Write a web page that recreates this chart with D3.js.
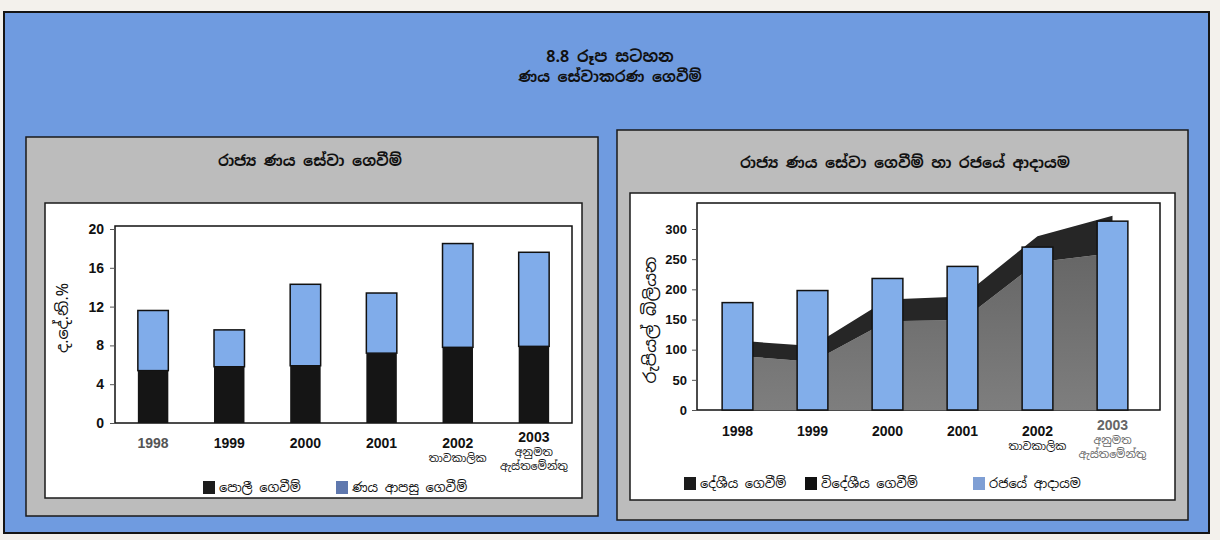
<!DOCTYPE html>
<html>
<head>
<meta charset="utf-8">
<script src="https://cdn.jsdelivr.net/npm/d3@7"></script>
<style>
  body { margin: 0; background: #f3f1ec; }
  svg { display: block; }
  text { font-family: "Noto Sans Sinhala", "Iskoola Pota", "Liberation Sans", Arial, sans-serif; fill: #111; }
  .num { font-family: "Liberation Sans", Arial, sans-serif; font-weight: bold; }
</style>
</head>
<body>
<svg id="chart" width="1220" height="540"></svg>
<script>
// data
var years = ["1998", "1999", "2000", "2001", "2002", "2003"];
var yearNotes = [[], [], [], [], ["තාවකාලික"], ["අනුමත", "ඇස්තමේන්තු"]];

// left: % of GDP
var interestPay = [5.4, 5.8, 5.9, 7.2, 7.8, 7.9];
var amortPay = [6.2, 3.8, 8.4, 6.2, 10.7, 9.7];
var leftTicks = [0, 4, 8, 12, 16, 20];

// right: Rs. billion
var domesticPay = [90, 80, 147, 149, 245, 260];
var foreignPay = [25, 26, 36, 39, 43, 62];
var govRevenue = [178, 198, 218, 238, 270, 313];
var rightTicks = [0, 50, 100, 150, 200, 250, 300];

var svg = d3.select("#chart");

// panels
svg.append("rect").attr("x", 4).attr("y", 12).attr("width", 1205).attr("height", 521)
  .attr("fill", "#6f9be0").attr("stroke", "#151515").attr("stroke-width", 2);

svg.append("text").attr("x", 610).attr("y", 62).attr("text-anchor", "middle")
  .style("font-size", "16px").style("font-weight", "bold").text("8.8 රූප සටහන");
svg.append("text").attr("x", 610).attr("y", 82).attr("text-anchor", "middle")
  .style("font-size", "15px").style("font-weight", "bold").text("ණය සේවාකරණ ගෙවීම්");

function panel(x, y, w, h, wx, wy, ww, wh, title, tx, ty) {
  svg.append("rect").attr("x", x).attr("y", y).attr("width", w).attr("height", h)
    .attr("fill", "#bcbcbc").attr("stroke", "#1a1a1a").attr("stroke-width", 1.5);
  svg.append("rect").attr("x", wx).attr("y", wy).attr("width", ww).attr("height", wh)
    .attr("fill", "#fff").attr("stroke", "#1a1a1a").attr("stroke-width", 1.5);
  svg.append("text").attr("x", tx).attr("y", ty).attr("text-anchor", "middle")
    .style("font-size", "15px").style("font-weight", "bold").text(title);
}
panel(26, 137, 572, 379, 45, 203, 537, 295, "රාජ්‍ය ණය සේවා ගෙවීම්", 310, 166);
panel(617, 130, 571, 390, 630, 193, 545, 307, "රාජ්‍ය ණය සේවා ගෙවීම් හා රජයේ ආදායම", 905, 168);

function yearLabels(g, x, baseY, firstColor, lastColor) {
  years.forEach(function(yr, i) {
    var cx = x(yr) + x.bandwidth() / 2;
    var notes = yearNotes[i];
    var y0 = notes.length > 1 ? baseY - 6 : baseY;
    var col = i === 0 ? firstColor : (i === years.length - 1 ? lastColor : "#111");
    g.append("text").attr("class", "num").attr("x", cx).attr("y", y0)
      .attr("text-anchor", "middle").style("font-size", "14px").style("fill", col).text(yr);
    notes.forEach(function(n, j) {
      g.append("text").attr("x", cx).attr("y", y0 + 14 + j * 14)
        .attr("text-anchor", "middle").style("font-size", "11px").style("fill", col).text(n);
    });
  });
}

function legendItem(g, x, y, color, label) {
  g.append("rect").attr("x", x).attr("y", y - 11).attr("width", 12).attr("height", 13)
    .attr("fill", color);
  g.append("text").attr("x", x + 16).attr("y", y).style("font-size", "13px").text(label);
}

// ---- left chart: stacked bars
(function() {
  var g = svg.append("g");
  var x = d3.scaleBand().domain(years).range([115, 572]).paddingInner(0.6).paddingOuter(0.3);
  var y = d3.scaleLinear().domain([0, 20]).range([423, 229]);

  g.append("rect").attr("x", 115).attr("y", 226).attr("width", 457).attr("height", 197)
    .attr("fill", "#fff").attr("stroke", "#111").attr("stroke-width", 1.5);

  var yAxis = d3.axisLeft(y).tickValues(leftTicks).tickSize(5).tickPadding(6);
  var ax = g.append("g").attr("transform", "translate(115,0)").call(yAxis);
  ax.select(".domain").remove();
  ax.selectAll("text").attr("class", "num").style("font-size", "14px").style("fill", "#111");
  ax.selectAll("line").attr("stroke", "#555");

  var stack = years.map(function(yr, i) { return { yr: yr, a: interestPay[i], b: amortPay[i] }; });
  g.selectAll(".bb").data(stack).enter().append("rect")
    .attr("x", function(d) { return x(d.yr); })
    .attr("width", x.bandwidth())
    .attr("y", function(d) { return y(d.a + d.b); })
    .attr("height", function(d) { return y(d.a) - y(d.a + d.b); })
    .attr("fill", "#80acea").attr("stroke", "#111").attr("stroke-width", 1.5);
  g.selectAll(".ba").data(stack).enter().append("rect")
    .attr("x", function(d) { return x(d.yr); })
    .attr("width", x.bandwidth())
    .attr("y", function(d) { return y(d.a); })
    .attr("height", function(d) { return y(0) - y(d.a); })
    .attr("fill", "#151515");

  g.append("text").attr("transform", "translate(68,318) rotate(-90)")
    .attr("text-anchor", "middle").style("font-size", "16px").text("ද.දේ.නි.%");

  yearLabels(g, x, 448, "#555", "#111");
  legendItem(g, 203, 492, "#1c1c1c", "පොලී ගෙවීම්");
  legendItem(g, 336, 492, "#5f78ae", "ණය ආපසු ගෙවීම්");
})();

// ---- right chart: stacked areas behind revenue bars
(function() {
  var g = svg.append("g");
  var x = d3.scaleBand().domain(years).range([700, 1150]).paddingInner(0.59).paddingOuter(0.295);
  var y = d3.scaleLinear().domain([0, 300]).range([410, 229]);
  var cx = function(i) { return x(years[i]) + x.bandwidth() / 2; };

  g.append("rect").attr("x", 697).attr("y", 203).attr("width", 463).attr("height", 207)
    .attr("fill", "#fff").attr("stroke", "#111").attr("stroke-width", 1.5);

  var yAxis = d3.axisLeft(y).tickValues(rightTicks).tickSize(5).tickPadding(5);
  var ax = g.append("g").attr("transform", "translate(697,0)").call(yAxis);
  ax.select(".domain").remove();
  ax.selectAll("text").attr("class", "num").style("font-size", "13px").style("fill", "#111");
  ax.selectAll("line").attr("stroke", "#555");

  var pts = years.map(function(yr, i) { return { i: i, d: domesticPay[i], f: foreignPay[i] }; });
  var domArea = d3.area().x(function(p) { return cx(p.i); })
    .y0(y(0)).y1(function(p) { return y(p.d); });
  var forArea = d3.area().x(function(p) { return cx(p.i); })
    .y0(function(p) { return y(p.d); }).y1(function(p) { return y(p.d + p.f); });

  var grad = svg.append("defs").append("linearGradient").attr("id", "domg")
    .attr("x1", 0).attr("x2", 0).attr("y1", 0).attr("y2", 1);
  grad.append("stop").attr("offset", "0%").attr("stop-color", "#666");
  grad.append("stop").attr("offset", "100%").attr("stop-color", "#7e7e7e");

  g.append("path").datum(pts).attr("d", domArea).attr("fill", "url(#domg)");
  g.append("path").datum(pts).attr("d", forArea).attr("fill", "#262626");

  g.selectAll(".rev").data(govRevenue).enter().append("rect")
    .attr("x", function(d, i) { return x(years[i]); })
    .attr("width", x.bandwidth())
    .attr("y", function(d) { return y(d); })
    .attr("height", function(d) { return y(0) - y(d); })
    .attr("fill", "#82aeea").attr("stroke", "#111").attr("stroke-width", 1.5);

  g.append("text").attr("transform", "translate(656,320) rotate(-90)")
    .attr("text-anchor", "middle").style("font-size", "17px").text("රුපියල් බිලියන");

  yearLabels(g, x, 436, "#111", "#666");
  legendItem(g, 684, 488, "#1c1c1c", "දේශීය ගෙවීම්");
  legendItem(g, 805, 488, "#111", "විදේශීය ගෙවීම්");
  legendItem(g, 973, 488, "#7f9fd4", "රජයේ ආදායම");
})();
</script>
</body>
</html>
